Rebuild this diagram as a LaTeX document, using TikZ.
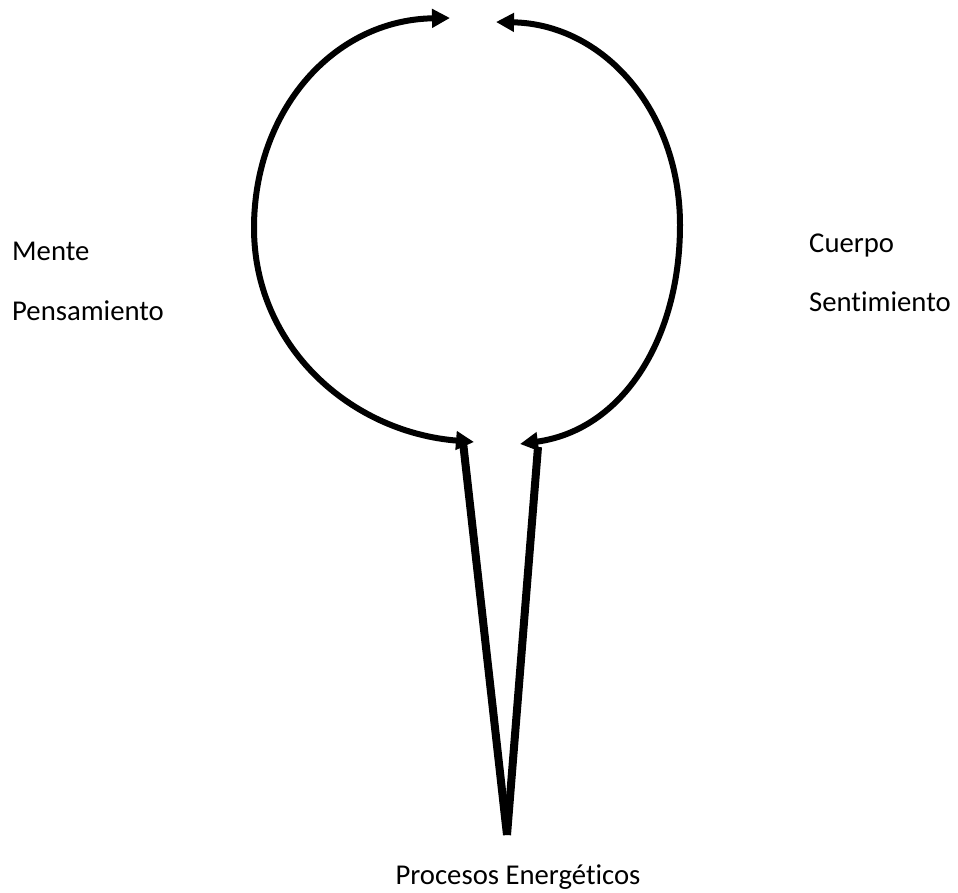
\documentclass[tikz,border=0pt]{standalone}
\usepackage{fontspec}
\setmainfont{Carlito}[RawFeature={-liga;-clig;-dlig}]
\usetikzlibrary{arrows.meta}
\tikzset{
  lbl/.style={inner sep=0pt, font=\fontsize{28.7}{34}\selectfont},
  arcline/.style={line width=6pt, {Triangle[length=18pt,width=18pt]}-{Triangle[length=18pt,width=18pt]}},
  stem/.style={line width=8pt, line cap=butt}
}
\begin{document}
\begin{tikzpicture}[x=1pt,y=-1pt]
\useasboundingbox (0,0) rectangle (958,892);
% labels
\node[lbl, anchor=base west] (mente) at (12,260) {Mente};
\node[lbl, anchor=base west] (pens) at (12,320) {Pensamiento};
\node[lbl, anchor=base west] (cuerpo) at (809,252) {Cuerpo};
\node[lbl, anchor=base west] (sent) at (809,311) {Sentimiento};
\node[lbl, anchor=base] (proc) at (518,884) {Procesos Energéticos};
% arc end points
\coordinate (lt) at (450,18);
\coordinate (ll) at (254,228);
\coordinate (lb) at (474,442);
\coordinate (rt) at (496,22);
\coordinate (rr) at (680,225);
\coordinate (rb) at (520,444);
% stem points
\coordinate (sl) at (463,442);
\coordinate (sr) at (538,447);
\coordinate (tip) at (507,835);
% arcs
\draw[arcline] (lt) .. controls (333,20) and (254,111) .. (ll)
  .. controls (254,346) and (350,432) .. (lb);
\draw[arcline] (rt) .. controls (603,24) and (680,110) .. (rr)
  .. controls (680,340) and (622,430) .. (rb);
% stems
\draw[stem] (sl) -- (tip);
\draw[stem] (sr) -- (tip);
\end{tikzpicture}
\end{document}
